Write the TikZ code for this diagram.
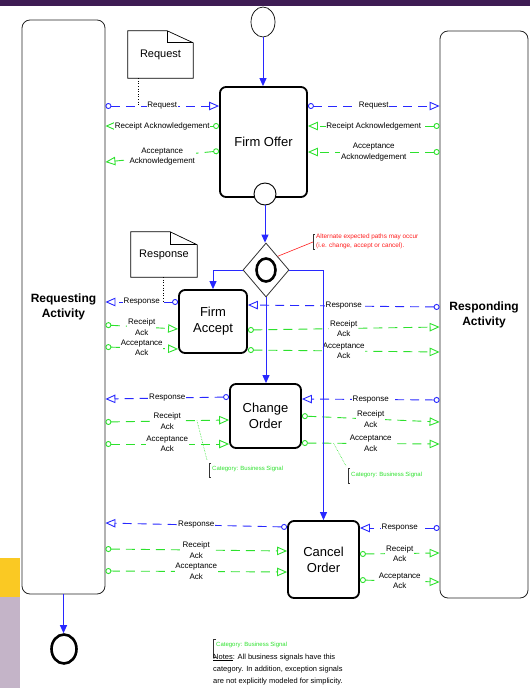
\documentclass[tikz,border=0pt]{standalone}
\usepackage{fontspec}
\setmainfont{Liberation Sans}
\usetikzlibrary{arrows.meta,shapes.geometric,calc}
\definecolor{mblue}{RGB}{40,40,255}
\definecolor{mgreen}{RGB}{45,225,45}
\definecolor{barpurple}{RGB}{62,28,84}
\definecolor{stripyellow}{RGB}{250,201,35}
\definecolor{stripmauve}{RGB}{196,180,200}
\definecolor{annred}{RGB}{255,30,30}
\begin{document}
\begin{tikzpicture}[x=1pt,y=-1pt,
  lane/.style={draw=black!85, line width=0.8pt, rounded corners=8pt, align=center,
    font=\bfseries\fontsize{12}{15}\selectfont, inner sep=0pt},
  activity/.style={draw, line width=1.8pt, rounded corners=6pt, align=center,
    font=\fontsize{13}{16}\selectfont, inner sep=0pt},
  flow/.style={draw=mblue, line width=1pt, -{Triangle[length=8pt,width=7pt]}},
  bmsg/.style={draw=mblue, line width=0.9pt, dash pattern=on 9pt off 6pt,
    {Circle[open,length=6pt,width=6pt]}-{Triangle[open,length=10pt,width=8.5pt]}},
  gmsg/.style={draw=mgreen, line width=0.9pt, dash pattern=on 9pt off 6pt,
    {Circle[open,length=6pt,width=6pt]}-{Triangle[open,length=10pt,width=8.5pt]}},
  lbl/.style={fill=white, inner sep=0.8pt, font=\fontsize{8}{10.5}\selectfont, align=center, text=black},
  docbox/.style={minimum width=#1, inner sep=0pt, font=\fontsize{11}{13}\selectfont},
  catlbl/.style={text=mgreen, font=\fontsize{6}{8}\selectfont, inner sep=0pt},
  pointer/.style={mgreen, densely dotted, line width=0.6pt},
  bracketline/.style={draw=black!80, line width=0.6pt}
]
\useasboundingbox (0,0) rectangle (530,688);
% page decorations
\fill[barpurple] (0,0) rectangle (530,6);
\fill[stripyellow] (0,558) rectangle (20,597);
\fill[stripmauve] (0,597) rectangle (20,688);

% swimlanes
\node[lane, minimum width=83pt, minimum height=574pt] (lbox) at (63.5,307) {Requesting\\Activity};
\node[lane, minimum width=88pt, minimum height=567pt] (rbox) at (484,314.5) {Responding\\Activity};

% activities
\node[activity, minimum width=87pt, minimum height=110pt] (fo) at (263.5,142) {Firm Offer};
\node[activity, minimum width=68pt, minimum height=63pt] (fa) at (213,321.5) {Firm\\Accept};
\node[activity, minimum width=71pt, minimum height=64pt] (co) at (265.5,416) {Change\\Order};
\node[activity, minimum width=71pt, minimum height=77pt] (cn) at (323.5,559.5) {Cancel\\Order};

% start / end / gateway
\node[ellipse, draw, line width=0.7pt, minimum width=24pt, minimum height=30pt, inner sep=0pt] (start) at (263,22) {};
\node[circle, draw, fill=white, line width=0.9pt, minimum size=22pt, inner sep=0pt] (foend) at (265,194) {};
\node[diamond, draw=black!80, line width=0.8pt, minimum width=46pt, minimum height=54pt, inner sep=0pt, fill=white] (dia) at (266,270) {};
\node[ellipse, draw, line width=2.6pt, minimum width=19pt, minimum height=23pt, inner sep=0pt] (diac) at (dia) {};
\node[ellipse, draw, line width=2.6pt, minimum width=25pt, minimum height=29pt, inner sep=0pt] (endc) at (64,649) {};

% documents
\node[docbox=65pt, minimum height=47pt] (reqdoc) at (160.5,54.5) {Request};
\draw[line width=0.7pt] (reqdoc.north west) -- ([xshift=-26pt]reqdoc.north east) -- ([yshift=-12pt]reqdoc.north east)
  -- (reqdoc.south east) -- (reqdoc.south west) -- cycle;
\draw[line width=0.7pt] ([xshift=-26pt]reqdoc.north east) -- ([xshift=-26pt,yshift=-12pt]reqdoc.north east) -- ([yshift=-12pt]reqdoc.north east);
\node[docbox=66pt, minimum height=45pt] (resdoc) at (164,254.5) {Response};
\draw[line width=0.7pt] (resdoc.north west) -- ([xshift=-27pt]resdoc.north east) -- ([yshift=-13pt]resdoc.north east)
  -- (resdoc.south east) -- (resdoc.south west) -- cycle;
\draw[line width=0.7pt] ([xshift=-27pt]resdoc.north east) -- ([xshift=-27pt,yshift=-13pt]resdoc.north east) -- ([yshift=-13pt]resdoc.north east);

% ---- Firm Offer messages
\draw[bmsg] (lbox.east |- 0,106) -- coordinate[pos=0.287] (reqpt) node[lbl]{Request} (fo.west |- 0,106);
\draw[bmsg] (fo.east |- 0,106) -- node[lbl]{Request} (rbox.west |- 0,106);
\draw[gmsg] (fo.west |- 0,126) -- node[lbl]{Receipt Acknowledgement} (lbox.east |- 0,126);
\draw[gmsg] (fo.west |- 0,151) -- node[lbl]{Acceptance\\Acknowledgement} (lbox.east |- 0,162);
\draw[gmsg] (rbox.west |- 0,126) -- node[lbl]{Receipt Acknowledgement} (fo.east |- 0,126);
\draw[gmsg] (rbox.west |- 0,152) -- node[lbl]{Acceptance\\Acknowledgement} (fo.east |- 0,152);

% ---- Firm Accept messages
\draw[bmsg] (fa.west |- 0,302) -- coordinate[pos=0.2] (respt) node[lbl]{Response} (lbox.east |- 0,302);
\draw[bmsg] (rbox.west |- 0,307) -- node[lbl]{Response} (fa.east |- 0,305);
\draw[gmsg] (lbox.east |- 0,325) -- node[lbl]{Receipt\\Ack} (fa.west |- 0,329);
\draw[gmsg] (lbox.east |- 0,347) -- node[lbl]{Acceptance\\Ack} (fa.west |- 0,349);
\draw[gmsg] (fa.east |- 0,330) -- node[lbl]{Receipt\\Ack} (rbox.west |- 0,327);
\draw[gmsg] (fa.east |- 0,350) -- node[lbl]{Acceptance\\Ack} (rbox.west |- 0,352);

% ---- Change Order messages
\draw[bmsg] (co.west |- 0,397) -- node[lbl]{Response} (lbox.east |- 0,399);
\draw[bmsg] (rbox.west |- 0,400) -- node[lbl]{Response} (co.east |- 0,399);
\draw[gmsg] (lbox.east |- 0,422) -- coordinate[pos=0.74] (catApt) node[lbl]{Receipt\\Ack} (co.west |- 0,420);
\draw[gmsg] (lbox.east |- 0,444) -- node[lbl]{Acceptance\\Ack} (co.west |- 0,444);
\draw[gmsg] (co.east |- 0,416) -- node[lbl]{Receipt\\Ack} (rbox.west |- 0,422);
\draw[gmsg] (co.east |- 0,443) -- coordinate[pos=0.23] (catBpt) node[lbl]{Acceptance\\Ack} (rbox.west |- 0,444);

% ---- Cancel Order messages
\draw[bmsg] (cn.west |- 0,527) -- node[lbl]{Response} (lbox.east |- 0,523);
\draw[bmsg] (rbox.west |- 0,528) -- node[lbl]{Response} (cn.east |- 0,528);
\draw[gmsg] (lbox.east |- 0,549) -- node[lbl]{Receipt\\Ack} (cn.west |- 0,551);
\draw[gmsg] (lbox.east |- 0,571) -- node[lbl]{Acceptance\\Ack} (cn.west |- 0,572);
\draw[gmsg] (cn.east |- 0,554) -- node[lbl]{Receipt\\Ack} (rbox.west |- 0,553);
\draw[gmsg] (cn.east |- 0,580) -- node[lbl]{Acceptance\\Ack} (rbox.west |- 0,582);

% document associations
\draw[dotted, line width=0.6pt] (reqdoc.south west -| reqpt) -- (reqpt);
\draw[dotted, line width=0.6pt] (resdoc.south -| respt) -- (respt);

% sequence flows
\draw[flow] (start.south) -- (start.south |- fo.north);
\draw[flow] (foend.south) -- (foend.south |- dia.north);
\draw[flow] (dia.west) -| (fa.north);
\draw[flow] (dia.south) -- (dia.south |- co.north);
\draw[flow] (dia.east) -| (cn.north);
\draw[flow] (lbox.south) -- (lbox.south |- endc.north);

% red annotation
\coordinate (altbr) at (313,242);
\draw[annred, line width=0.6pt] (dia.north east) -- (altbr);
\draw[bracketline] (315,234) -- (313,234) -- (313,249) -- (315,249);
\node[anchor=west, inner sep=0pt, align=left, text=annred, font=\fontsize{6.4}{9}\selectfont] (alt) at (316,241.5)
  {Alternate expected paths may occur\\(i.e. change, accept or cancel).};

% category annotations
\coordinate (catAbr) at (207,460);
\draw[pointer] (catApt) -- (catAbr);
\draw[bracketline] (211,463) -- (209,463) -- (209,477) -- (211,477);
\node[catlbl, anchor=west] (catA) at (212,469) {Category: Business Signal};
\coordinate (catBbr) at (346,466);
\draw[pointer] (catBpt) -- (catBbr);
\draw[bracketline] (350,468) -- (348,468) -- (348,483) -- (350,483);
\node[catlbl, anchor=west] (catB) at (351,475) {Category: Business Signal};

% notes
\draw[bracketline] (216,639) -- (213,639) -- (213,657) -- (216,657);
\node[catlbl, anchor=west] (catN) at (216,645) {Category: Business Signal};
\node[anchor=north west, inner sep=0pt, align=left, font=\fontsize{7.5}{12}\selectfont] (notes) at (213,653.5)
  {\underline{Notes}: All business signals have this\\category. In addition, exception signals\\are not explicitly modeled for simplicity.};
\end{tikzpicture}
\end{document}
